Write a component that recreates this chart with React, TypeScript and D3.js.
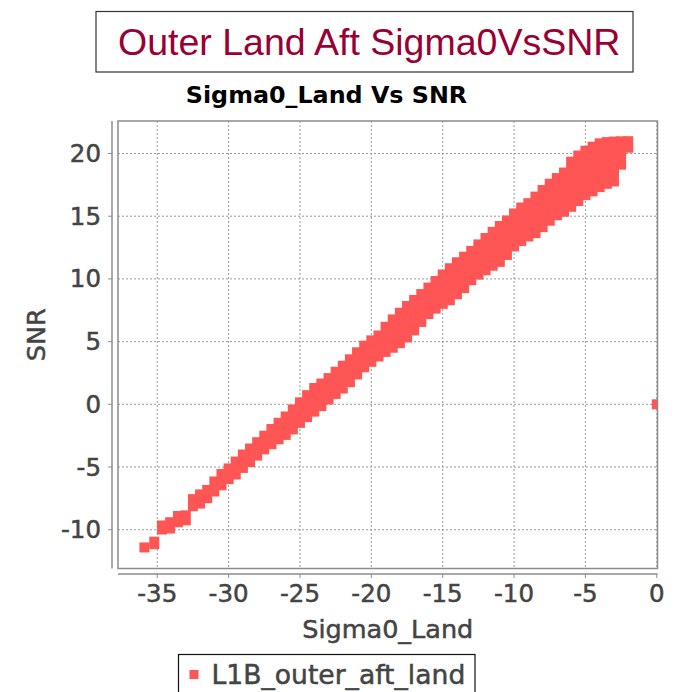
import * as d3 from "d3";

// scatter envelope: for each Sigma0 column, lowest and highest SNR of the points
const sigma0 = [
  -35.9, -35.21, -34.67, -34.1, -33.55, -33.0,
  -32.5, -32.0, -31.5, -31.0, -30.5, -30.0, -29.5, -29.0, -28.5, -28.0,
  -27.5, -27.0, -26.5, -26.0, -25.5, -25.0, -24.5, -24.0, -23.5, -23.0,
  -22.5, -22.0, -21.5, -21.0, -20.5, -20.0, -19.5, -19.0, -18.5, -18.0,
  -17.5, -17.0, -16.5, -16.0, -15.5, -15.0, -14.5, -14.0, -13.5, -13.0,
  -12.5, -12.0, -11.5, -11.0, -10.5, -10.0, -9.5, -9.0, -8.5, -8.0,
  -7.5, -7.0, -6.5, -6.0, -5.5, -5.0, -4.5, -4.0, -3.5, -3.0,
  -2.5, -2.0, 0,
];
const snrLow = [
  -11.41, -11.15, -9.98, -9.9, -9.4, -9.25,
  -8.12, -7.91, -7.48, -6.95, -6.45, -5.96, -5.59, -5.07, -4.6, -4.09,
  -3.59, -3.18, -2.79, -2.44, -2.0, -1.48, -1.02, -0.58, -0.14, 0.38,
  0.83, 1.26, 1.77, 2.38, 2.95, 3.39, 3.81, 4.18, 4.51, 4.88,
  5.33, 5.9, 6.57, 7.2, 7.63, 8.01, 8.3, 8.77, 9.27, 9.9,
  10.34, 10.69, 11.05, 11.36, 11.91, 12.59, 13.02, 13.38, 13.65, 14.13,
  14.64, 15.08, 15.36, 15.75, 16.21, 16.68, 16.98, 17.32, 17.58, 17.77,
  19.11, 20.46, 0,
];
const snrHigh = [
  -11.41, -10.95, -9.66, -9.4, -8.9, -8.85,
  -7.56, -7.18, -6.83, -6.15, -5.55, -5.11, -4.56, -4.0, -3.52, -3.02,
  -2.5, -1.97, -1.47, -0.97, -0.41, 0.16, 0.73, 1.3, 1.66, 2.09,
  2.6, 3.08, 3.59, 4.15, 4.68, 5.1, 5.49, 6.18, 6.77, 7.3,
  7.84, 8.32, 8.79, 9.31, 9.83, 10.35, 10.85, 11.33, 11.77, 12.23,
  12.75, 13.26, 13.75, 14.22, 14.66, 15.22, 15.69, 16.04, 16.56, 17.09,
  17.59, 18.04, 18.48, 19.35, 19.84, 20.22, 20.54, 20.81, 20.91, 20.95,
  20.97, 20.98, 0,
];

const xTicks = [-35, -30, -25, -20, -15, -10, -5, 0];
const yTicks = [-10, -5, 0, 5, 10, 15, 20];

const seriesName = "L1B_outer_aft_land";
const pointColor = "#ff5555";
const font = "'DejaVu Sans', sans-serif";
const textGray = "#444";

export default function App() {
  const left = 118, right = 657.5, top = 121, bottom = 568.5;
  const x = d3.scaleLinear([-37.75, 0.05], [left, right]);
  const y = d3.scaleLinear([-13.09, 22.59], [bottom, top]);
  const m = 5; // half marker size

  const yAxisX = 112;
  const xAxisY = 574;
  // the reference text is a little heavier than a plain DejaVu
  const heavy = { stroke: textGray, strokeWidth: 0.5 };

  return (
    <svg width={680} height={692} style={{ position: "absolute", left: 0, top: 0 }}>
      <rect width={680} height={692} fill="white" />

      {/* slide title */}
      <rect x={96} y={11.5} width={537} height={60.5} fill="white" stroke="#333" strokeWidth={1.2} />
      <text x={118} y={55} fontFamily="'Liberation Sans', Arial, sans-serif" fontSize={37.5} fill="#990033">
        Outer Land Aft Sigma0VsSNR
      </text>

      {/* chart title */}
      <text x={326.5} y={103} textAnchor="middle" fontFamily={font} fontWeight="bold" fontSize={23.8} fill="#000">
        Sigma0_Land Vs SNR
      </text>

      {/* grid */}
      <g stroke="#9a9a9a" strokeWidth={1} strokeDasharray="2,2">
        {xTicks.map((t) => (
          <line key={"gx" + t} x1={x(t)} x2={x(t)} y1={top} y2={bottom} />
        ))}
        {yTicks.map((t) => (
          <line key={"gy" + t} x1={left} x2={right} y1={y(t)} y2={y(t)} />
        ))}
      </g>

      <defs>
        <clipPath id="plotClip">
          <rect x={left} y={top} width={right - left} height={bottom - top} />
        </clipPath>
      </defs>

      {/* points */}
      <g clipPath="url(#plotClip)" fill={pointColor}>
        {sigma0.map((s, i) => (
          <rect
            key={i}
            x={x(s) - m}
            y={y(snrHigh[i]) - m}
            width={2 * m}
            height={y(snrLow[i]) - y(snrHigh[i]) + 2 * m}
          />
        ))}
      </g>

      {/* plot border */}
      <rect x={left} y={top} width={right - left} height={bottom - top} fill="none" stroke="#8c8c8c" strokeWidth={1.5} />

      {/* y axis */}
      <line x1={yAxisX} x2={yAxisX} y1={top} y2={bottom} stroke="#8c8c8c" strokeWidth={1.5} />
      {yTicks.map((t) => (
        <g key={"yt" + t}>
          <line x1={yAxisX - 4} x2={yAxisX} y1={y(t)} y2={y(t)} stroke="#8c8c8c" strokeWidth={1} />
          <text x={101} y={y(t) + 8.5} textAnchor="end" fontFamily={font} fontSize={24.5} fill={textGray} {...heavy}>
            {t}
          </text>
        </g>
      ))}
      <text
        transform={`translate(45,${(top + bottom) / 2 - 10}) rotate(-90)`}
        textAnchor="middle"
        fontFamily={font}
        fontSize={25.5}
        fill={textGray}
        {...heavy}
      >
        SNR
      </text>

      {/* x axis */}
      <line x1={left} x2={right} y1={xAxisY} y2={xAxisY} stroke="#8c8c8c" strokeWidth={1.5} />
      {xTicks.map((t) => (
        <g key={"xt" + t}>
          <line x1={x(t)} x2={x(t)} y1={xAxisY} y2={xAxisY + 4} stroke="#8c8c8c" strokeWidth={1} />
          <text x={x(t)} y={602} textAnchor="middle" fontFamily={font} fontSize={24.5} fill={textGray} {...heavy}>
            {t}
          </text>
        </g>
      ))}
      <text x={(left + right) / 2} y={638} textAnchor="middle" fontFamily={font} fontSize={25.5} fill={textGray} {...heavy}>
        Sigma0_Land
      </text>

      {/* legend */}
      <rect x={178.5} y={654.5} width={296.5} height={50} fill="white" stroke="#111" strokeWidth={1.2} />
      <rect x={189.5} y={670} width={9} height={9} fill={pointColor} />
      <text x={211.5} y={683.5} fontFamily={font} fontSize={26.6} fill={textGray} {...heavy}>
        {seriesName}
      </text>
    </svg>
  );
}
